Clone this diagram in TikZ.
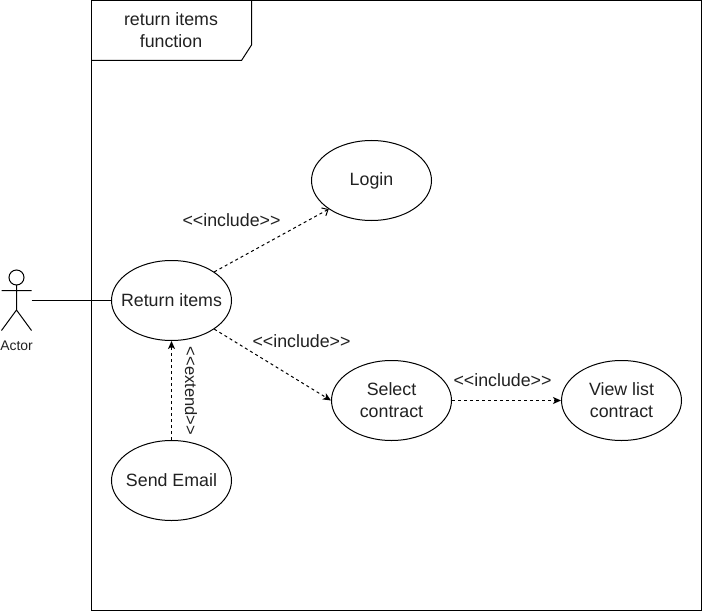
\documentclass[tikz,border=0pt]{standalone}
\usepackage{fontspec}
\setmainfont{Liberation Sans}
\usetikzlibrary{arrows.meta,shapes.geometric}
\newcommand{\dbllt}{<\kern0pt<}
\newcommand{\dblgt}{>\kern0pt>}
\newcommand{\nw}[1]{\makebox[0pt]{#1}}
\definecolor{txt}{gray}{0.13}
\tikzset{
  uc/.style={draw,ellipse,minimum width=120bp,minimum height=80bp,inner sep=0pt,align=center,text=txt,font=\fontsize{17.8bp}{22bp}\selectfont,line width=1bp},
  dep/.style={dash pattern=on 3bp off 3bp,line width=1bp,-{Stealth[length=8bp,width=7bp,inset=2bp]}},
  depopen/.style={dash pattern=on 3bp off 3bp,line width=1bp,-{Straight Barb[length=5bp,width=9bp]}},
  lbl/.style={font=\fontsize{17.8bp}{22bp}\selectfont,inner sep=0pt,text=txt},
  ln/.style={line width=1bp}
}
\begin{document}
\begin{tikzpicture}[x=1bp,y=-1bp]
\useasboundingbox (0,0) rectangle (702,611);
\fill[white] (0,0) rectangle (702,611);
\draw[ln] (91.5,0.5) rectangle (701.5,610.5);
\draw[ln] (91.5,60.5) -- (241.5,60.5) -- (251.5,45) -- (251.5,0.5);
\node[lbl,align=center] (title) at (171,30) {return items\\function};
\node[uc] (login) at (371.5,180.5) {\raisebox{-0.8bp}{\nw{Login}}};
\node[uc] (ret) at (171.5,300.5) {\nw{Return items}};
\node[uc] (sel) at (391.5,400.5) {\nw{Select}\\\nw{contract}};
\node[uc] (view) at (621.5,400.5) {\nw{View list}\\\nw{contract}};
\node[uc] (mail) at (171.5,480.5) {\nw{Send Email}};
% actor
\coordinate (head) at (16.5,277.5);
\draw[ln] (head) circle (7.5);
\draw[ln] (16.5,285) -- (16.5,310) (1.5,290.5) -- (31.5,290.5) (1.5,330.5) -- (16.5,310) -- (31.5,330.5);
\node[font=\fontsize{13.9bp}{16bp}\selectfont,inner sep=0pt,text=txt] (actor) at (16.5,345.5) {Actor};
\coordinate (handr) at (31.5,300.5);
\draw[ln] (handr) -- (ret.west);
\draw[depopen] (ret.north east) -- (login.south west);
\draw[dep] (ret.south east) -- (sel.west);
\draw[dep] (sel.east) -- (view.west);
\draw[dep] (mail.north) -- (ret.south);
\node[lbl] (l1) at (231.5,220) {\dbllt include\dblgt};
\node[lbl] (l2) at (301.5,341) {\dbllt include\dblgt};
\node[lbl] (l3) at (502.5,380) {\dbllt include\dblgt};
\node[lbl,rotate=-90,font=\fontsize{16.5bp}{20bp}\selectfont] (l4) at (191,391) {\dbllt extend\dblgt};
\end{tikzpicture}
\end{document}
